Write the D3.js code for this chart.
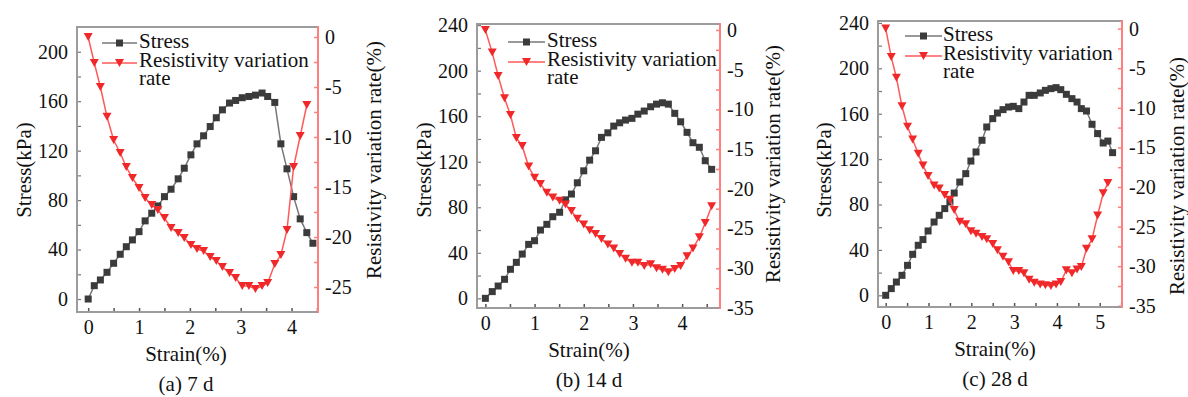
<!DOCTYPE html>
<html>
<head>
<meta charset="utf-8">
<script src="https://cdn.jsdelivr.net/npm/d3@7"></script>
<style>
  html, body { margin: 0; padding: 0; background: #fff; }
  svg { display: block; }
  text { font-family: "Liberation Serif", "Times New Roman", serif; fill: #111; }
</style>
</head>
<body>
<svg id="chart" width="1188" height="397"></svg>
<script>
// ---------------- DATA ----------------
const strainA = [0,0.12,0.24,0.37,0.5,0.63,0.75,0.87,1.0,1.12,1.25,1.37,1.5,1.63,1.77,1.89,2.02,2.14,2.27,2.40,2.52,2.64,2.78,2.90,3.03,3.16,3.29,3.42,3.53,3.67,3.79,3.91,4.04,4.17,4.30,4.42];
const stressA = [0,10.8,15.4,21.6,28.9,36.2,42.3,47.8,54.5,63.2,69.4,75.3,82.8,88.8,97.2,105.8,116.6,125.5,132,139.5,146.6,153,158.5,160.6,162.8,163.8,164.9,166.6,163.8,159,125.5,105.3,82.8,64.8,53.7,45.1];
const resistA = [0,-2.6,-5.0,-7.97,-10.3,-11.6,-13.0,-14.1,-15.1,-16.1,-16.8,-17.3,-18.1,-19.1,-19.6,-20.1,-20.8,-21.2,-21.4,-22.0,-22.4,-23.0,-23.6,-24.1,-24.9,-24.9,-25.2,-24.9,-24.6,-22.7,-21.8,-19.3,-13.0,-9.9,-6.8];

const strainB = [0,0.14,0.26,0.39,0.51,0.63,0.75,0.88,1.0,1.12,1.25,1.37,1.51,1.63,1.75,1.87,2.0,2.12,2.24,2.36,2.49,2.61,2.73,2.85,2.98,3.1,3.23,3.36,3.48,3.6,3.72,3.85,3.97,4.1,4.22,4.35,4.47,4.6];
const stressB = [0,5.9,10.8,16.7,25.5,31.6,38.9,47.4,50.6,60,65,71.7,75.6,86.5,91.6,101.5,112,121.4,129.6,141.4,145.4,151.3,154.2,156.6,158.1,161.8,164.5,168.3,170.6,171.8,170.6,162.5,155.1,145.8,136.7,132.7,120.9,113.3];
const resistB = [0,-2.85,-5.8,-8.6,-10.7,-13.6,-14.6,-17.2,-18.6,-19.4,-20.5,-21.1,-21.5,-21.96,-22.8,-23.75,-24.5,-25.2,-25.7,-26.3,-27.0,-27.5,-28.2,-28.8,-29.3,-29.3,-29.7,-29.5,-30.0,-30.2,-30.5,-30.1,-29.7,-28.5,-27.5,-26.1,-24.3,-22.2];

const strainC = [0,0.13,0.25,0.38,0.51,0.63,0.76,0.87,0.99,1.13,1.25,1.38,1.5,1.6,1.73,1.87,1.99,2.11,2.25,2.36,2.5,2.61,2.74,2.87,2.98,3.11,3.23,3.35,3.47,3.61,3.73,3.86,3.98,4.09,4.22,4.35,4.47,4.57,4.69,4.82,4.95,5.08,5.19,5.3];
const stressC = [0,5.9,11.7,17.6,26.4,36.1,44.1,49.1,56.7,64.6,70.5,76.4,82.2,90.1,99.8,107.2,118.3,126.3,136.6,148.3,155.7,160.6,163.6,165.9,166.5,164.5,170.3,176.2,176.2,178.3,180.6,182.1,183,181.2,177.1,173.3,170.3,164.5,162.4,150.7,142.5,134.2,135.9,125.7];
const resistC = [0,-3.6,-6.2,-9.8,-12.4,-14.0,-15.8,-17.3,-18.6,-19.8,-20.2,-21.0,-21.6,-22.9,-24.4,-24.7,-25.6,-25.9,-26.3,-26.6,-27.2,-28.0,-28.8,-29.5,-30.6,-30.6,-30.9,-31.7,-32.1,-32.3,-32.4,-32.5,-32.3,-32.0,-30.5,-30.9,-30.4,-30.1,-27.8,-26.6,-23.6,-20.8,-19.5];

const xTicksA = [0,1,2,3,4];
const xTicksB = [0,1,2,3,4];
const xTicksC = [0,1,2,3,4,5];
const stressTicksA = [0,40,80,120,160,200];
const stressTicksBC = [0,40,80,120,160,200,240];
const resistTicksA = [0,-5,-10,-15,-20,-25];
const resistTicksBC = [0,-5,-10,-15,-20,-25,-30,-35];

const captions = ["(a) 7 d", "(b) 14 d", "(c) 28 d"];
const xTitle = "Strain(%)";
const yTitle = "Stress(kPa)";
const y2Title = "Resistivity variation rate(%)";
const legendStress = "Stress";
const legendResist = ["Resistivity variation", "rate"];

// ---------------- LAYOUT ----------------
const panels = [
  { strain: strainA, stress: stressA, resist: resistA, xTicks: xTicksA, sTicks: stressTicksA, rTicks: resistTicksA,
    box: {x0: 77, x1: 318, y0: 27, y1: 312}, xDom: [-0.22, 4.52], sDom: [-10.5, 220], rDom: [-27.5, 1],
    legend: {lx0: 102, lx1: 137, ly: 43, tx: 139}, yTitleX: 31, y2TitleX: 381, y2TitleY: 160, yTitleY: 170, cx: 186, caption: captions[0] },
  { strain: strainB, stress: stressB, resist: resistB, xTicks: xTicksB, sTicks: stressTicksBC, rTicks: resistTicksBC,
    box: {x0: 477, x1: 720, y0: 24, y1: 308}, xDom: [-0.17, 4.77], sDom: [-8.5, 241], rDom: [-35, 0.75],
    legend: {lx0: 508, lx1: 545, ly: 42, tx: 547}, yTitleX: 431, y2TitleX: 780, y2TitleY: 164, yTitleY: 170, cx: 589, caption: captions[1] },
  { strain: strainC, stress: stressC, resist: resistC, xTicks: xTicksC, sTicks: stressTicksBC, rTicks: resistTicksBC,
    box: {x0: 878, x1: 1122, y0: 21, y1: 307}, xDom: [-0.18, 5.52], sDom: [-10.3, 241.7], rDom: [-35.15, 0.96],
    legend: {lx0: 905, lx1: 942, ly: 36, tx: 943}, yTitleX: 831, y2TitleX: 1184, y2TitleY: 176, yTitleY: 170, cx: 995, caption: captions[2] }
];

const FRAME = "#9c9c9c";
const RED_AXIS = "#ff7f7f";
const RED = "#f0282a";
const RED_LINE = "#ff5a5a";
const SQ = "#3b3b3b";
const SQ_LINE = "#777";
const FS = 21;
const TFS = 20;

const svg = d3.select("#chart");

const triPath = (cx, cy, w, h) => `M${cx - w/2},${cy - h/2}L${cx + w/2},${cy - h/2}L${cx},${cy + h/2}Z`;

panels.forEach(p => {
  const b = p.box;
  const g = svg.append("g");
  const x = d3.scaleLinear().domain(p.xDom).range([b.x0, b.x1]);
  const ys = d3.scaleLinear().domain(p.sDom).range([b.y1, b.y0]);
  const yr = d3.scaleLinear().domain(p.rDom).range([b.y1, b.y0]);

  const xMinor = d3.range(0, p.xDom[1], 0.5);
  const sMinor = d3.range(0, p.sDom[1], 20);
  const rMinor = d3.range(0, p.rDom[0], -2.5);

  // bottom axis (ticks inward)
  const gx = g.append("g").attr("transform", `translate(0,${b.y1})`)
    .call(d3.axisBottom(x).tickValues(xMinor).tickSize(-4).tickFormat(""));
  gx.select(".domain").remove();
  gx.selectAll("line").attr("stroke", "#555").attr("stroke-width", 1.5);
  const gxl = g.append("g").attr("transform", `translate(0,${b.y1})`)
    .call(d3.axisBottom(x).tickValues(p.xTicks).tickSize(0).tickPadding(8).tickFormat(d3.format("d")));
  gxl.select(".domain").remove();
  gxl.selectAll("text").attr("font-size", TFS).attr("font-family", "Liberation Serif").attr("fill", "#111");

  // left axis
  const gs = g.append("g").attr("transform", `translate(${b.x0},0)`)
    .call(d3.axisLeft(ys).tickValues(sMinor).tickSize(-4).tickFormat(""));
  gs.select(".domain").remove();
  gs.selectAll("line").attr("stroke", "#777").attr("stroke-width", 1.2);
  const gsl = g.append("g").attr("transform", `translate(${b.x0},0)`)
    .call(d3.axisLeft(ys).tickValues(p.sTicks).tickSize(0).tickPadding(9).tickFormat(d3.format("d")));
  gsl.select(".domain").remove();
  gsl.selectAll("text").attr("font-size", TFS).attr("font-family", "Liberation Serif").attr("fill", "#111");

  // right axis
  const gr = g.append("g").attr("transform", `translate(${b.x1},0)`)
    .call(d3.axisRight(yr).tickValues(rMinor).tickSize(-4).tickFormat(""));
  gr.select(".domain").remove();
  gr.selectAll("line").attr("stroke", RED_AXIS).attr("stroke-width", 1.5);
  const grl = g.append("g").attr("transform", `translate(${b.x1},0)`)
    .call(d3.axisRight(yr).tickValues(p.rTicks).tickSize(0).tickPadding(7).tickFormat(d => d === 0 ? "0" : "-" + Math.abs(d)));
  grl.select(".domain").remove();
  grl.selectAll("text").attr("font-size", TFS).attr("font-family", "Liberation Serif").attr("fill", "#111");

  // frame
  g.append("path").attr("d", `M${b.x1},${b.y0}L${b.x0},${b.y0}L${b.x0},${b.y1}L${b.x1},${b.y1}`)
    .attr("fill", "none").attr("stroke", FRAME).attr("stroke-width", 2);
  g.append("line").attr("x1", b.x1).attr("x2", b.x1).attr("y1", b.y0 - 1).attr("y2", b.y1 + 1)
    .attr("stroke", RED_AXIS).attr("stroke-width", 2);

  // stress series
  const sPts = p.stress.map((v, i) => [p.strain[i], v]);
  g.append("path").datum(sPts)
    .attr("d", d3.line().x(d => x(d[0])).y(d => ys(d[1])))
    .attr("fill", "none").attr("stroke", SQ_LINE).attr("stroke-width", 1.5);
  g.selectAll(".sq").data(sPts).enter().append("rect")
    .attr("x", d => x(d[0]) - 3.5).attr("y", d => ys(d[1]) - 3.5)
    .attr("width", 7).attr("height", 7).attr("fill", SQ);

  // resistivity series
  const rPts = p.resist.map((v, i) => [p.strain[i], v]);
  g.append("path").datum(rPts)
    .attr("d", d3.line().x(d => x(d[0])).y(d => yr(d[1])))
    .attr("fill", "none").attr("stroke", RED_LINE).attr("stroke-width", 1.5);
  g.selectAll(".tri").data(rPts).enter().append("path")
    .attr("d", d => triPath(x(d[0]), yr(d[1]), 9, 8)).attr("fill", RED);

  // legend
  const L = p.legend;
  const lm = (L.lx0 + L.lx1) / 2;
  g.append("line").attr("x1", L.lx0).attr("x2", L.lx1).attr("y1", L.ly).attr("y2", L.ly)
    .attr("stroke", SQ_LINE).attr("stroke-width", 1.5);
  g.append("rect").attr("x", lm - 3.5).attr("y", L.ly - 3.5).attr("width", 7).attr("height", 7).attr("fill", SQ);
  g.append("line").attr("x1", L.lx0).attr("x2", L.lx1).attr("y1", L.ly + 20).attr("y2", L.ly + 20)
    .attr("stroke", RED_LINE).attr("stroke-width", 1.5);
  g.append("path").attr("d", triPath(lm, L.ly + 20, 9, 8)).attr("fill", RED);
  g.append("text").attr("x", L.tx).attr("y", L.ly + 5).attr("font-size", FS).text(legendStress);
  const rt = g.append("text").attr("x", L.tx).attr("y", L.ly + 24).attr("font-size", FS);
  rt.append("tspan").attr("x", L.tx).attr("dy", 0).text(legendResist[0]);
  rt.append("tspan").attr("x", L.tx).attr("dy", 18).text(legendResist[1]);

  // titles
  g.append("text").attr("x", p.cx).attr("y", b.y1 + 49).attr("text-anchor", "middle").attr("font-size", FS).text(xTitle);
  g.append("text").attr("x", p.cx).attr("y", b.y1 + 79).attr("text-anchor", "middle").attr("font-size", FS).text(p.caption);
  g.append("text").attr("transform", `translate(${p.yTitleX},${p.yTitleY}) rotate(-90)`)
    .attr("text-anchor", "middle").attr("font-size", FS).text(yTitle);
  g.append("text").attr("transform", `translate(${p.y2TitleX},${p.y2TitleY}) rotate(-90)`)
    .attr("text-anchor", "middle").attr("font-size", FS).text(y2Title);
});
</script>
</body>
</html>
